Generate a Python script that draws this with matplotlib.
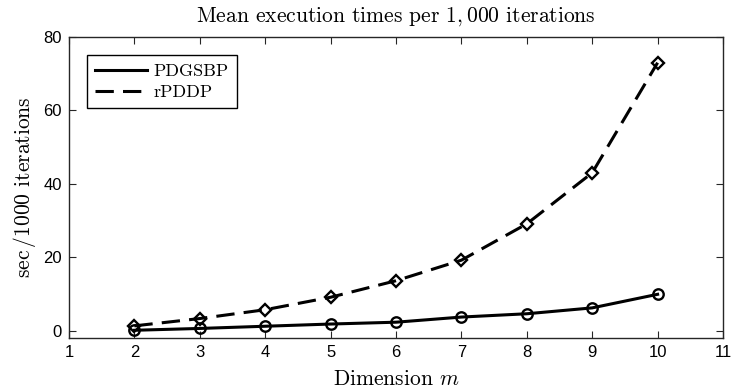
import matplotlib
matplotlib.use("Agg")
import matplotlib.pyplot as plt

# Mean execution time (sec per 1000 iterations) against dimension m
dims = [2, 3, 4, 5, 6, 7, 8, 9, 10]
pdgsbp = [0.1, 0.6, 1.2, 1.8, 2.3, 3.7, 4.6, 6.2, 9.9]
rpddp = [1.3, 3.3, 5.7, 9.1, 13.6, 19.2, 29.1, 43.0, 73.0]
xticks = [1, 2, 3, 4, 5, 6, 7, 8, 9, 10, 11]
yticks = [0, 20, 40, 60, 80]

plt.rcParams['mathtext.fontset'] = 'cm'
serif = dict(fontname='cmr10')

fig = plt.figure(figsize=(7.32, 3.92), dpi=100)
ax = fig.add_axes([0.0943, 0.1378, 0.8934, 0.7678])

ax.plot(dims, pdgsbp, color='black', lw=2.2, ls='-', marker='o', ms=7.5,
        mfc='none', mew=1.7, label='PDGSBP')
ax.plot(dims, rpddp, color='black', lw=2.2, ls=(0, (6, 3)), marker='D', ms=6.5,
        mfc='none', mew=1.7, label='rPDDP')

ax.set_xlim(1, 11)
ax.set_ylim(-2, 80)
ax.set_xticks(xticks)
ax.set_yticks(yticks)
ax.tick_params(direction='in', top=True, right=True, length=5, width=0.8,
               labelsize=12, colors='#262626', labelcolor='black', pad=5)
for lab in ax.get_xticklabels() + ax.get_yticklabels():
    lab.set_fontfamily('Liberation Sans')
for s in ax.spines.values():
    s.set_linewidth(1.0)
    s.set_color('#262626')

ax.set_title('Mean execution times per $1,000$ iterations', fontsize=15.5,
             pad=11, **serif)
ax.set_xlabel('Dimension $m$', fontsize=15.5, labelpad=7, **serif)
ax.set_ylabel('sec$\\,/1000$ iterations', fontsize=15.5, labelpad=4, **serif)

leg = ax.legend(loc='upper left', bbox_to_anchor=(0.0275, 0.94), borderaxespad=0,
                fancybox=False, edgecolor='black', framealpha=1,
                handlelength=2.9, borderpad=0.45, labelspacing=0.3,
                handletextpad=0.35, prop={'family': 'cmr10', 'size': 13})
for h in leg.get_lines():
    h.set_marker('')
leg.get_frame().set_linewidth(1.0)

fig.savefig('out.png', dpi=100)
